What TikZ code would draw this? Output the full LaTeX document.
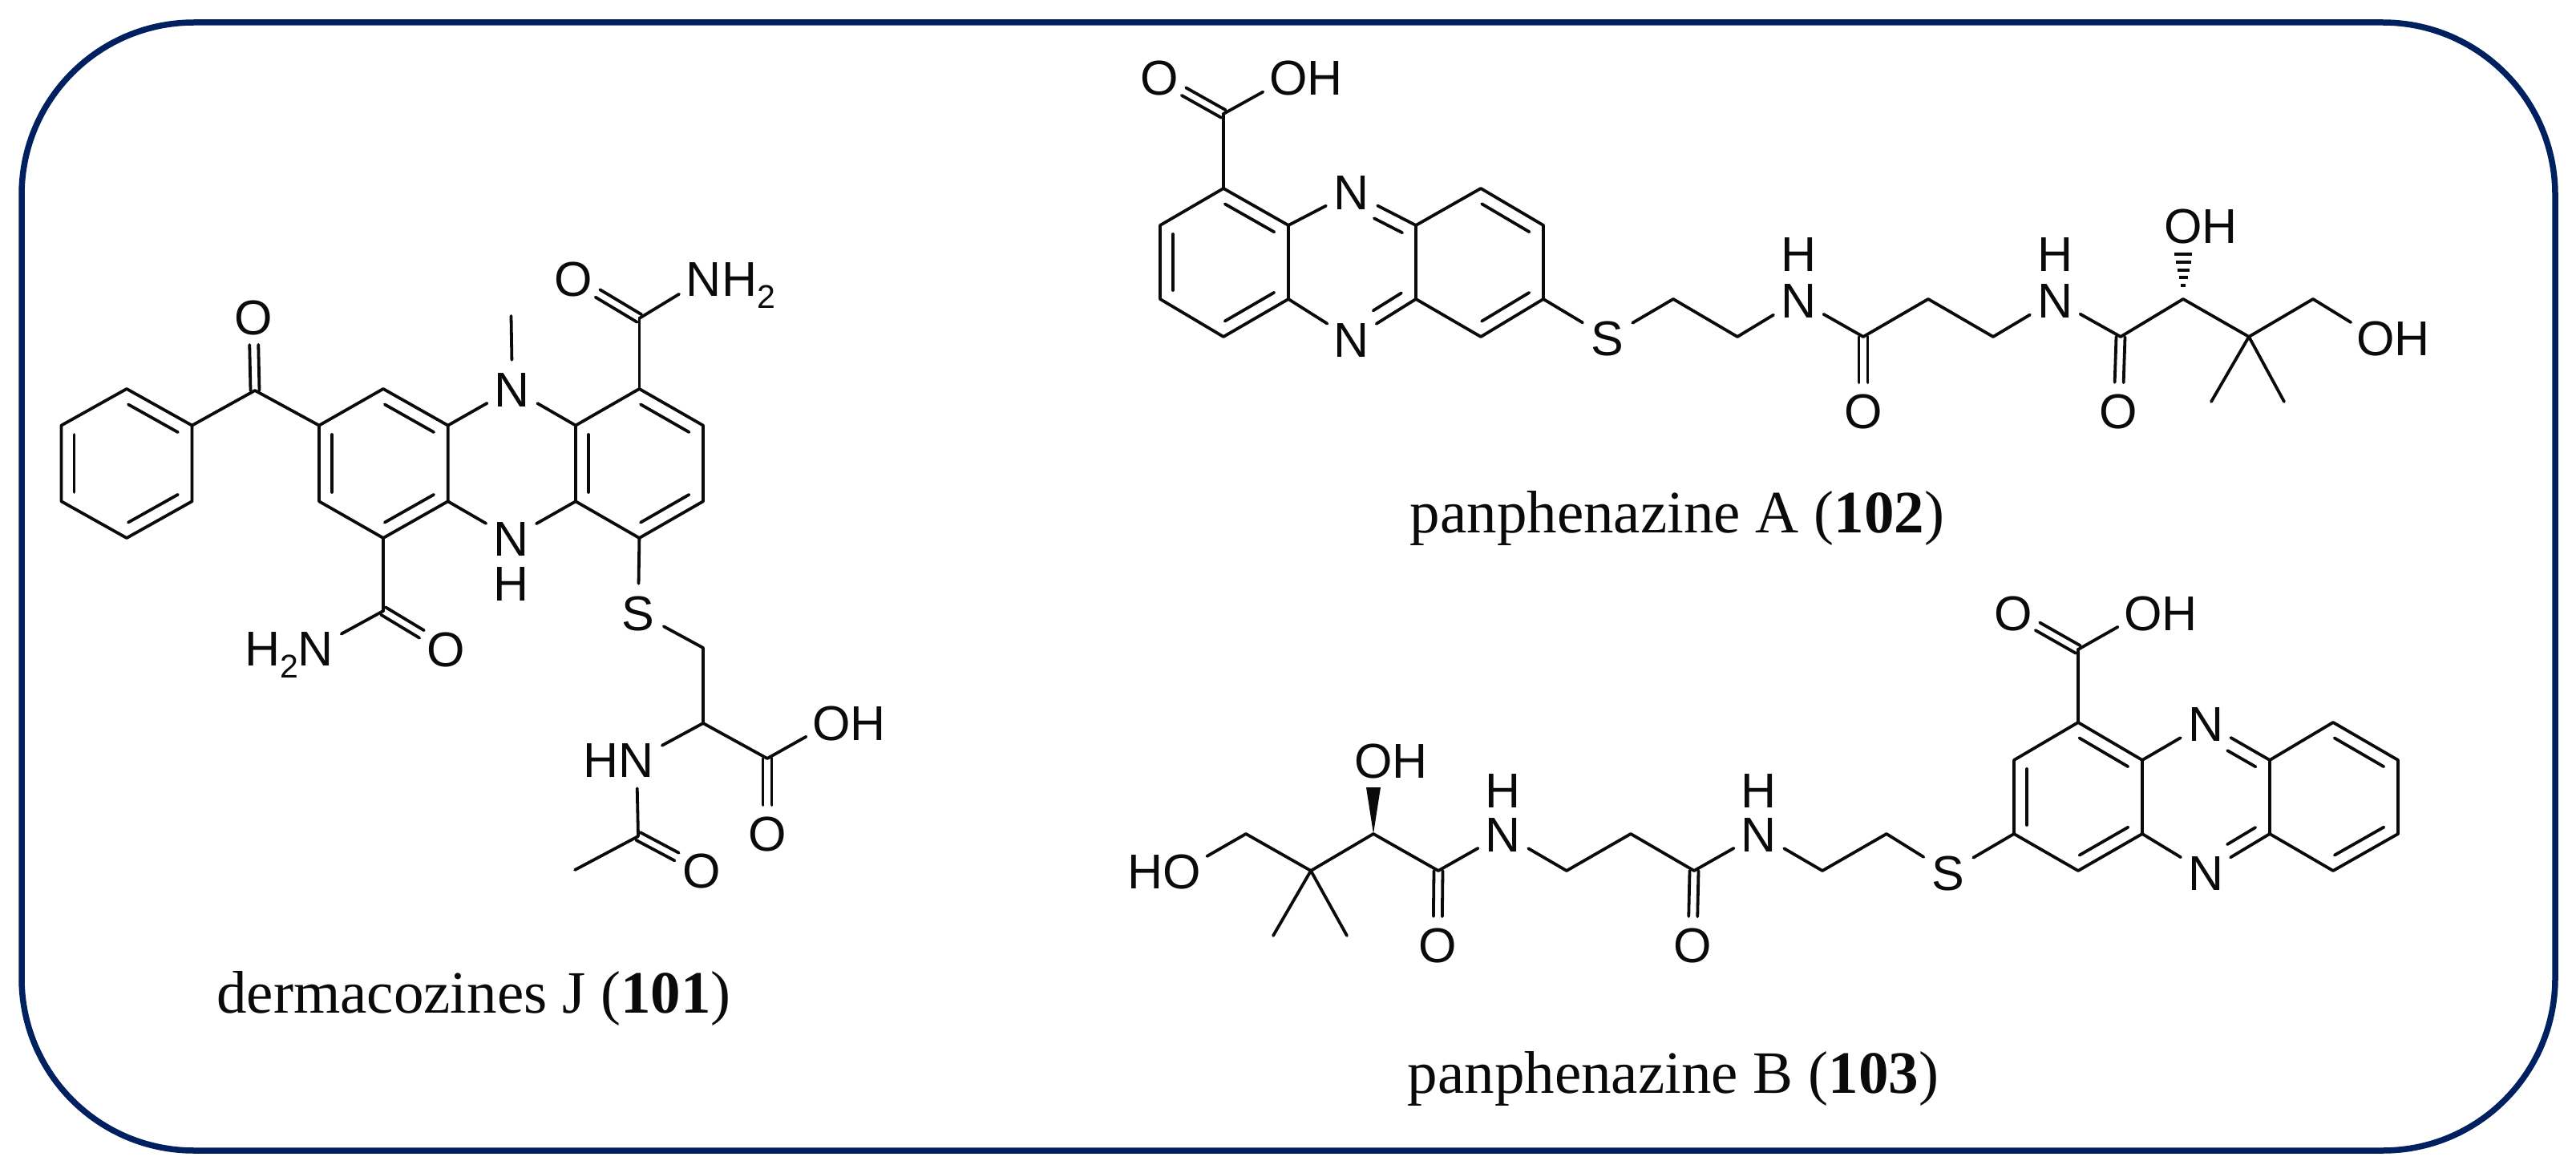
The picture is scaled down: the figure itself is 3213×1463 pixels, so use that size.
\documentclass[tikz,border=0pt]{standalone}
\usepackage{fontspec}
\setmainfont{Liberation Serif}
\setsansfont{Liberation Sans}
\usetikzlibrary{calc}
\definecolor{framenavy}{HTML}{002060}
\definecolor{inkblack}{HTML}{0A0A0A}
\newcommand{\subtwo}{\raisebox{-15pt}{\fontsize{41}{41}\selectfont 2}}
% inner line of a ring bond, bond taken clockwise round its ring
\newcommand{\ib}[2]{\draw[bond] ($(#1)!.12!(#2)!16pt!-90:(#2)$) -- ($(#2)!.12!(#1)!16pt!90:(#1)$);}
% same, with a hetero atom at the first end
\newcommand{\ibn}[2]{\draw[bond] ($(#1)!.44!(#2)!16pt!-90:(#2)$) -- ($(#2)!.12!(#1)!16pt!90:(#1)$);}
% same, with a hetero atom at the second end
\newcommand{\ibr}[2]{\draw[bond] ($(#1)!.12!(#2)!16pt!-90:(#2)$) -- ($(#2)!.44!(#1)!16pt!90:(#1)$);}
% carbonyl: two parallel lines from carbon to oxygen
\newcommand{\cdo}[2]{\draw[bond,shorten >=35pt] ($(#1)!5.5pt!90:(#2)$) -- ($(#2)!5.5pt!-90:(#1)$);
  \draw[bond,shorten >=35pt] ($(#1)!5.5pt!-90:(#2)$) -- ($(#2)!5.5pt!90:(#1)$);}
\tikzset{
  bond/.style={draw=inkblack,line width=3.8pt,line cap=round,line join=round},
  atom/.style={circle,inner sep=0pt,minimum size=72pt,text depth=0pt,text height=44pt,
    text=inkblack,font=\sffamily\fontsize{61}{61}\selectfont},
  caption/.style={anchor=base,inner sep=0pt,text=inkblack,font=\rmfamily\fontsize{75}{75}\selectfont},
  frame/.style={draw=framenavy,line width=7.5pt,rounded corners=215pt}
}
\begin{document}
\begin{tikzpicture}[x=1pt,y=-1pt]
\useasboundingbox (0,0) rectangle (3213,1463);
\draw[frame] (27,28) rectangle (3187,1435);

%% ---------- dermacozines J (101) ----------
\coordinate (a1) at (76.5,530.6);
\coordinate (a2) at (158,485);
\coordinate (a3) at (239.5,530.6);
\coordinate (a4) at (239.5,625.3);
\coordinate (a5) at (158,671);
\coordinate (a6) at (76.5,625.3);
\coordinate (b1) at (318,487);
\coordinate (c1) at (398,530.6);
\coordinate (c2) at (478,485);
\coordinate (c3) at (558.7,530.6);
\coordinate (c4) at (558.7,625.3);
\coordinate (c5) at (478,671);
\coordinate (c6) at (398,625.3);
\coordinate (d1) at (718,530.6);
\coordinate (d2) at (797.4,485);
\coordinate (d3) at (877,530.6);
\coordinate (d4) at (877,625.3);
\coordinate (d5) at (797.4,671);
\coordinate (d6) at (718,625.3);
\coordinate (e1) at (637.5,394);
\coordinate (f1) at (797.4,397);
\coordinate (g1) at (478,762);
\coordinate (h1) at (877,808);
\coordinate (h2) at (877,902);
\coordinate (h3) at (957,946);
\coordinate (h4) at (796,1043);
\coordinate (h5) at (717,1085);
\node[atom] (O1) at (316,395) {O};
\node[atom] (N1) at (639,485) {N};
\node[atom] (N2) at (637.5,671) {N};
\node[atom] (H2) at (637.5,727) {H};
\node[atom] (O2) at (715.5,348) {O};
\node[atom] (N3) at (878,348) {N\rlap{H\subtwo}};
\node[atom] (N4) at (394,808) {\llap{H\subtwo}N};
\node[atom] (O3) at (556,809) {O};
\node[atom] (S1) at (796,764) {S};
\node[atom] (N5) at (794,947) {\llap{H}N};
\node[atom] (O4) at (1037,901) {O\rlap{H}};
\node[atom] (O5) at (957,1039) {O};
\node[atom] (O6) at (875,1085) {O};
\node[caption] (cap1) at (591,1263) {dermacozines J (\textbf{101})};

\draw[bond] (a1)--(a2)--(a3)--(a4)--(a5)--(a6)--cycle;
\ib{a2}{a3} \ib{a4}{a5} \ib{a6}{a1}
\draw[bond] (a3)--(b1)--(c1);
\cdo{b1}{O1}
\draw[bond] (c1)--(c2)--(c3)--(c4)--(c5)--(c6)--cycle;
\ib{c2}{c3} \ib{c4}{c5} \ib{c6}{c1}
\draw[bond] (d1)--(d2)--(d3)--(d4)--(d5)--(d6)--cycle;
\ib{d2}{d3} \ib{d4}{d5} \ib{d6}{d1}
\draw[bond] (c3)--(N1); \draw[bond] (N1)--(d1);
\draw[bond] (c4)--(N2); \draw[bond] (N2)--(d6);
\draw[bond] (N1)--(e1);
\draw[bond] (d2)--(f1); \draw[bond] (f1)--(N3); \cdo{f1}{O2}
\draw[bond] (c5)--(g1); \draw[bond] (g1)--(N4); \cdo{g1}{O3}
\draw[bond] (d5)--(S1); \draw[bond] (S1)--(h1);
\draw[bond] (h1)--(h2)--(h3);
\draw[bond] (h2)--(N5); \draw[bond] (h3)--(O4); \cdo{h3}{O5}
\draw[bond] (N5)--(h4); \draw[bond] (h4)--(h5); \cdo{h4}{O6}

%% ---------- panphenazine A (102) ----------
\coordinate (p1) at (1526,235);
\coordinate (p2) at (1607,281);
\coordinate (p3) at (1607,373);
\coordinate (p4) at (1526,420);
\coordinate (p5) at (1447,373);
\coordinate (p6) at (1447,281);
\coordinate (q1) at (1766,281);
\coordinate (q2) at (1847,235);
\coordinate (q3) at (1925,281);
\coordinate (q4) at (1925,373);
\coordinate (q5) at (1847,420);
\coordinate (q6) at (1766,373);
\coordinate (r1) at (1526,142);
\coordinate (s1) at (2087,373);
\coordinate (s2) at (2167,420);
\coordinate (s3) at (2324,420);
\coordinate (s4) at (2405,373);
\coordinate (s5) at (2486,420);
\coordinate (s6) at (2645,420);
\coordinate (s7) at (2723,373);
\coordinate (s8) at (2805,420);
\coordinate (s9) at (2758,501);
\coordinate (s10) at (2849,501);
\coordinate (s11) at (2885,373);
\node[atom] (pO1) at (1446,97) {O};
\node[atom] (pO2) at (1607,97) {O\rlap{H}};
\node[atom] (pN1) at (1686,240) {N};
\node[atom] (pN2) at (1686,423) {N};
\node[atom] (pS) at (2005,421) {S};
\node[atom] (pN3) at (2243,374) {N};
\node[atom] (pH3) at (2243,316) {H};
\node[atom] (pO3) at (2324,512) {O};
\node[atom] (pN4) at (2563,374) {N};
\node[atom] (pH4) at (2563,316) {H};
\node[atom] (pO4) at (2642,512) {O};
\node[atom] (pO5) at (2723,282) {O\rlap{H}};
\node[atom] (pO6) at (2963,421) {O\rlap{H}};
\node[caption] (cap2) at (2092,664) {panphenazine A (\textbf{102})};

\draw[bond] (p1)--(p2)--(p3)--(p4)--(p5)--(p6)--cycle;
\ib{p1}{p2} \ib{p3}{p4} \ib{p5}{p6}
\draw[bond] (p1)--(r1); \draw[bond] (r1)--(pO2); \cdo{r1}{pO1}
\draw[bond] (p2)--(pN1); \draw[bond] (pN1)--(q1); \ibn{pN1}{q1}
\draw[bond] (p3)--(pN2); \draw[bond] (q6)--(pN2); \ibr{q6}{pN2}
\draw[bond] (q1)--(q2)--(q3)--(q4)--(q5)--(q6)--cycle;
\ib{q2}{q3} \ib{q4}{q5}
\draw[bond] (q4)--(pS); \draw[bond] (pS)--(s1);
\draw[bond] (s1)--(s2); \draw[bond] (s2)--(pN3); \draw[bond] (pN3)--(s3);
\cdo{s3}{pO3}
\draw[bond] (s3)--(s4)--(s5); \draw[bond] (s5)--(pN4); \draw[bond] (pN4)--(s6);
\cdo{s6}{pO4}
\draw[bond] (s6)--(s7)--(s8)--(s11); \draw[bond] (s8)--(s9); \draw[bond] (s8)--(s10);
\draw[bond] (s11)--(pO6);
\foreach \dy/\hw in {17/3,27/5.5,36/7.5,46/9.5,56/11}
  \draw[draw=inkblack,line width=3.5pt] ($(s7)+(-\hw,-\dy)$) -- ($(s7)+(\hw,-\dy)$);

%% ---------- panphenazine B (103) ----------
\coordinate (t1) at (2592,901);
\coordinate (t2) at (2672,948);
\coordinate (t3) at (2672,1040);
\coordinate (t4) at (2592,1086);
\coordinate (t5) at (2512,1040);
\coordinate (t6) at (2512,948);
\coordinate (u1) at (2831,948);
\coordinate (u2) at (2910,901);
\coordinate (u3) at (2991,948);
\coordinate (u4) at (2991,1040);
\coordinate (u5) at (2910,1086);
\coordinate (u6) at (2831,1040);
\coordinate (v1) at (2592,810);
\coordinate (w1) at (2353,1040);
\coordinate (w2) at (2273,1086);
\coordinate (w3) at (2113,1086);
\coordinate (w4) at (2034,1040);
\coordinate (w5) at (1954,1086);
\coordinate (w6) at (1794,1086);
\coordinate (w7) at (1713,1040);
\coordinate (w8) at (1635,1086);
\coordinate (w9) at (1588,1167);
\coordinate (w10) at (1680,1167);
\coordinate (w11) at (1554,1040);
\node[atom] (bO1) at (2511,764) {O};
\node[atom] (bO2) at (2673,764) {O\rlap{H}};
\node[atom] (bN1) at (2751,902) {N};
\node[atom] (bN2) at (2751,1088) {N};
\node[atom] (bS) at (2430,1088) {S};
\node[atom] (bN3) at (2194,1040) {N};
\node[atom] (bH3) at (2194,985) {H};
\node[atom] (bO3) at (2111,1178) {O};
\node[atom] (bN4) at (1875,1040) {N};
\node[atom] (bH4) at (1875,985) {H};
\node[atom] (bO4) at (1793,1178) {O};
\node[atom] (bO5) at (1713,948) {O\rlap{H}};
\node[atom] (bO6) at (1474,1086) {\llap{H}O};
\node[caption] (cap3) at (2087,1363) {panphenazine B (\textbf{103})};

\draw[bond] (t1)--(t2)--(t3)--(t4)--(t5)--(t6)--cycle;
\ib{t1}{t2} \ib{t3}{t4} \ib{t5}{t6}
\draw[bond] (t1)--(v1); \draw[bond] (v1)--(bO2); \cdo{v1}{bO1}
\draw[bond] (t2)--(bN1); \draw[bond] (bN1)--(u1); \ibn{bN1}{u1}
\draw[bond] (t3)--(bN2); \draw[bond] (u6)--(bN2); \ibr{u6}{bN2}
\draw[bond] (u1)--(u2)--(u3)--(u4)--(u5)--(u6)--cycle;
\ib{u2}{u3} \ib{u4}{u5}
\draw[bond] (t5)--(bS); \draw[bond] (bS)--(w1);
\draw[bond] (w1)--(w2); \draw[bond] (w2)--(bN3); \draw[bond] (bN3)--(w3);
\cdo{w3}{bO3}
\draw[bond] (w3)--(w4)--(w5); \draw[bond] (w5)--(bN4); \draw[bond] (bN4)--(w6);
\cdo{w6}{bO4}
\draw[bond] (w6)--(w7)--(w8)--(w11); \draw[bond] (w8)--(w9); \draw[bond] (w8)--(w10);
\draw[bond] (w11)--(bO6);
\fill[inkblack] (w7) -- ($(w7)+(-9,-58)$) -- ($(w7)+(9,-58)$) -- cycle;
\end{tikzpicture}
\end{document}
